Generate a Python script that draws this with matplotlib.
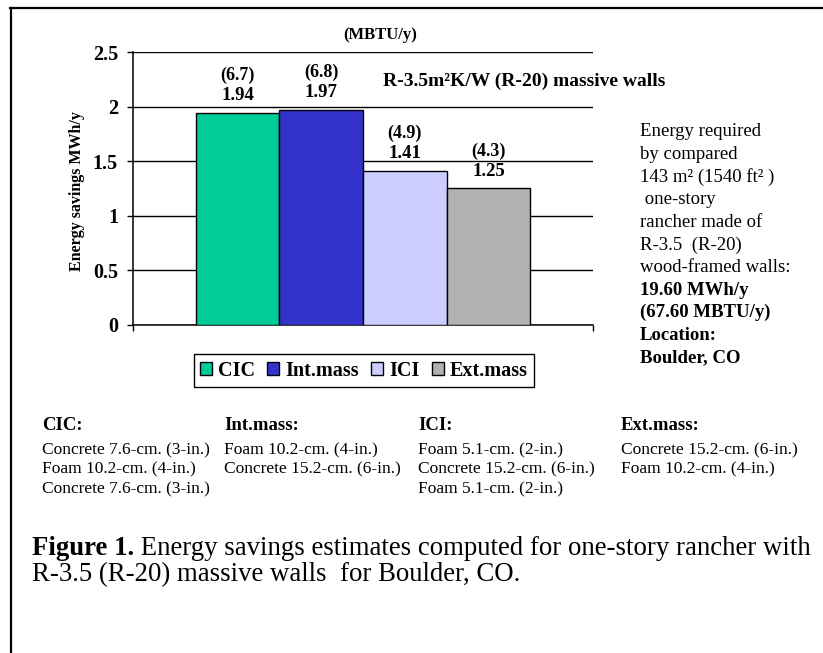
import matplotlib.pyplot as plt
from matplotlib.lines import Line2D
from matplotlib.text import Annotation

plt.rcParams['font.family'] = ['Liberation Serif', 'DejaVu Serif']

walls = ['CIC', 'Int.mass', 'ICI', 'Ext.mass']
savings_mwh = [1.94, 1.97, 1.41, 1.25]
savings_mbtu = [6.7, 6.8, 4.9, 4.3]
bar_colors = ['#00CC99', '#3333CC', '#CCCCFF', '#B2B2B2']
yticks = [0, 0.5, 1, 1.5, 2, 2.5]
ytick_labels = ['0', '0.5', '1', '1.5', '2', '2.5']

cic_layers = ['Concrete 7.6-cm. (3-in.)', 'Foam 10.2-cm. (4-in.)', 'Concrete 7.6-cm. (3-in.)']
intmass_layers = ['Foam 10.2-cm. (4-in.)', 'Concrete 15.2-cm. (6-in.)']
ici_layers = ['Foam 5.1-cm. (2-in.)', 'Concrete 15.2-cm. (6-in.)', 'Foam 5.1-cm. (2-in.)']
extmass_layers = ['Concrete 15.2-cm. (6-in.)', 'Foam 10.2-cm. (4-in.)']

note_lines = ['Energy required', 'by compared', '143 m\u00b2 (1540 ft\u00b2 )', ' one-story',
              'rancher made of', 'R-3.5  (R-20)', 'wood-framed walls:']
note_bold = ['19.60 MWh/y', '(67.60 MBTU/y)', 'Location:', 'Boulder, CO']

W, H = 823, 653
def fx(px): return px / W
def fy(py): return 1 - py / H

fig = plt.figure(figsize=(W / 100, H / 100), dpi=100)
ax = fig.add_axes([fx(133), fy(325), fx(593) - fx(133), fy(52) - fy(325)])

for i, (name, val, col) in enumerate(zip(walls, savings_mwh, bar_colors)):
    ax.bar(i, val, width=1.0, color=col, edgecolor='black', linewidth=1.0, label=name, zorder=3)

for i, (val, mbtu) in enumerate(zip(savings_mwh, savings_mbtu)):
    ax.annotate('%.2f' % val, (i, val), xytext=(0, 12.5), textcoords='offset points',
                ha='center', va='center', fontsize=13.5, fontweight='bold')
    ax.annotate('(%.1f)' % mbtu, (i, val), xytext=(0, 27), textcoords='offset points',
                ha='center', va='center', fontsize=13, fontweight='bold')

ax.set_xlim(-1.25, 4.25)
ax.set_ylim(0, 2.5)
ax.set_yticks(yticks)
ax.set_yticklabels(ytick_labels, fontsize=14.5, fontweight='bold')
ax.set_xticks([-1.25, 4.25])
ax.set_xticklabels(['', ''])
ax.tick_params(axis='y', direction='out', length=4.3, width=1.0, pad=6.5)
ax.tick_params(axis='x', direction='out', length=4.3, width=1.0)
ax.yaxis.grid(True, color='black', linewidth=1.0)
ax.set_axisbelow(True)
for s in ['top', 'right']:
    ax.spines[s].set_visible(False)
for s in ['left', 'bottom']:
    ax.spines[s].set_linewidth(1.1)
ax.set_ylabel('Energy savings MWh/y', fontsize=11.5, fontweight='bold', va='center')
ax.yaxis.set_label_coords(-0.122, 0.49)

fig.text(fx(380), fy(35), '(MBTU/y)', ha='center', va='center', fontsize=12, fontweight='bold')
fig.text(fx(383), fy(81), 'R-3.5m\u00b2K/W (R-20) massive walls', ha='left', va='center',
         fontsize=14, fontweight='bold')

fig.legend(loc='center', bbox_to_anchor=(fx(364), fy(370.5)), ncol=4, frameon=True,
           fancybox=False, edgecolor='black', framealpha=1,
           prop={'size': 14.5, 'weight': 'bold'}, handlelength=0.6, handleheight=0.6,
           handletextpad=0.3, columnspacing=0.6, borderpad=0.3, borderaxespad=0)

# note on the compared wood-framed house
y = 132
for line in note_lines:
    fig.text(fx(640), fy(y), line, ha='left', va='center', fontsize=13.5)
    y += 22.6
for line in note_bold:
    fig.text(fx(640), fy(y), line, ha='left', va='center', fontsize=13.5, fontweight='bold')
    y += 22.6

# wall layer descriptions
for x0, name, layers in zip([42, 224, 418, 621], walls,
                            [cic_layers, intmass_layers, ici_layers, extmass_layers]):
    fig.text(fx(x0), fy(425), name + ':', ha='left', va='center', fontsize=13.5, fontweight='bold')
    for j, layer in enumerate(layers):
        fig.text(fx(x0), fy(450 + 19.5 * j), layer, ha='left', va='center', fontsize=12.5)

# caption: bold figure number followed by plain text
cap = fig.text(fx(32), fy(555), 'Figure 1.', ha='left', va='baseline', fontsize=19.3, fontweight='bold')
rest = Annotation(' Energy savings estimates computed for one-story rancher with', xy=(1, 0),
                  xycoords=cap, xytext=(0, 0), textcoords='offset points',
                  ha='left', va='bottom', fontsize=19.3)
fig.add_artist(rest)
fig.text(fx(32), fy(581), 'R-3.5 (R-20) massive walls  for Boulder, CO.', ha='left',
         va='baseline', fontsize=19.3)

# page frame
fig.add_artist(Line2D([fx(10), 1], [fy(8), fy(8)], color='black', linewidth=1.6))
fig.add_artist(Line2D([fx(11), fx(11)], [fy(8), 0], color='black', linewidth=1.6))

fig.savefig('out.png', dpi=100)
